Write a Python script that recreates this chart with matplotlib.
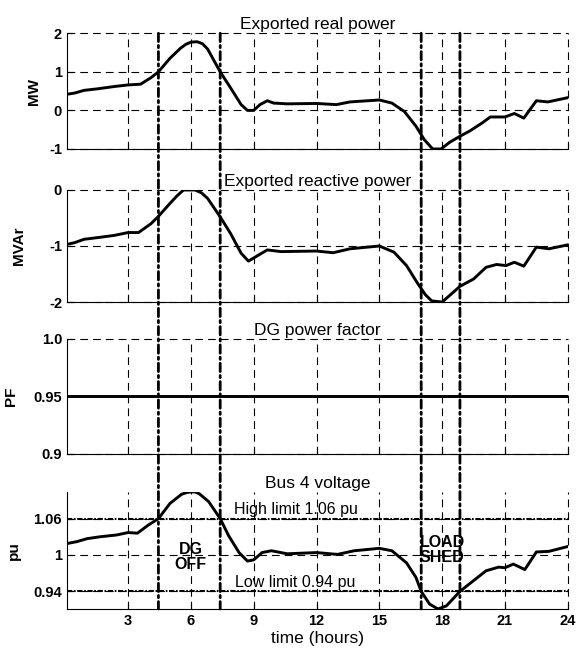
import numpy as np
import matplotlib
matplotlib.use("Agg")
import matplotlib.pyplot as plt
from matplotlib.patches import ConnectionPatch

plt.rcParams['font.family'] = ['Liberation Sans', 'DejaVu Sans']

# exported real power (MW)
t_mw = [0.1, 0.45, 0.9, 1.55, 2.35, 3.0, 3.6, 4.1, 4.45, 5.0, 5.5, 5.75, 6.0, 6.3, 6.55,
        6.8, 7.4, 7.9, 8.4, 8.7, 9.0, 9.3, 9.65, 9.95, 10.6, 12.0, 12.95, 13.6, 15.0,
        15.6, 16.2, 16.75, 17.15, 17.55, 17.95, 18.35, 18.85, 19.3, 19.9, 20.3,
        21.0, 21.45, 21.9, 22.5, 23.05, 24.0]
mw = [0.42, 0.45, 0.52, 0.56, 0.62, 0.66, 0.68, 0.85, 1.0, 1.35, 1.61, 1.71, 1.77, 1.78,
      1.73, 1.59, 1.0, 0.58, 0.15, 0.0, 0.0, 0.15, 0.25, 0.19, 0.17, 0.18, 0.15, 0.22,
      0.27, 0.19, -0.03, -0.41, -0.76, -1.0, -1.0, -0.83, -0.67, -0.54, -0.33, -0.17,
      -0.17, -0.08, -0.2, 0.25, 0.22, 0.33]

# exported reactive power (MVAr)
t_mvar = [0.1, 0.45, 0.9, 1.55, 2.35, 3.0, 3.5, 4.1, 4.45, 5.0, 5.35, 5.65, 6.2, 6.5,
          6.8, 7.4, 7.9, 8.4, 8.75, 9.15, 9.65, 10.3, 12.0, 12.8, 13.6, 15.0, 15.7,
          16.3, 16.8, 17.2, 17.5, 18.0, 18.4, 18.85, 19.5, 20.1, 20.6, 21.05, 21.45,
          21.9, 22.5, 23.1, 24.0]
mvar = [-0.97, -0.94, -0.88, -0.85, -0.81, -0.76, -0.76, -0.6, -0.47, -0.24, -0.1, 0.0,
        0.0, -0.05, -0.15, -0.48, -0.78, -1.13, -1.27, -1.18, -1.07, -1.1, -1.09,
        -1.12, -1.05, -1.0, -1.11, -1.35, -1.65, -1.87, -1.98, -2.0, -1.87, -1.72,
        -1.59, -1.38, -1.33, -1.35, -1.29, -1.36, -1.02, -1.05, -0.98]

# DG power factor
t_pf = [0.1, 24.0]
pf = [0.95, 0.95]

# bus 4 voltage (pu)
t_v = [0.1, 0.55, 1.05, 1.65, 2.45, 3.0, 3.45, 3.95, 4.45, 5.0, 5.55, 5.8, 6.0, 6.2,
       6.4, 6.85, 7.4, 7.8, 8.3, 8.7, 9.0, 9.4, 9.85, 10.6, 12.0, 13.0, 13.8, 15.0,
       15.6, 16.3, 16.75, 17.0, 17.4, 17.8, 18.2, 18.85, 19.4, 20.1, 20.7, 21.0,
       21.4, 21.95, 22.5, 23.1, 24.0]
volt = [1.019, 1.022, 1.027, 1.030, 1.033, 1.037, 1.036, 1.049, 1.06, 1.085, 1.100,
        1.103, 1.104, 1.104, 1.101, 1.088, 1.06, 1.032, 1.004, 0.990, 0.992, 1.004,
        1.007, 1.002, 1.004, 1.001, 1.007, 1.011, 1.007, 0.987, 0.963, 0.94, 0.919,
        0.911, 0.916, 0.94, 0.955, 0.974, 0.980, 0.979, 0.985, 0.976, 1.005, 1.006,
        1.014]

v_high = 1.06
v_low = 0.94
events = [4.45, 7.4, 17.0, 18.85]   # DG off / load shed switching times
xticks = [3, 6, 9, 12, 15, 18, 21, 24]

fig = plt.figure(figsize=(5.77, 6.52), dpi=100)
L, W = 0.116, 0.868
ax1 = fig.add_axes([L, 0.7715, W, 0.1775])
ax2 = fig.add_axes([L, 0.5368, W, 0.1718])
ax3 = fig.add_axes([L, 0.3037, W, 0.1764])
ax4 = fig.add_axes([L, 0.0660, W, 0.1795])


def style(ax, yticks, ylabels, ylim, title, ylabel, label_x):
    ax.set_xlim(0.08, 24)
    ax.set_ylim(*ylim)
    ax.set_xticks(xticks)
    ax.set_yticks(yticks)
    ax.set_yticklabels(ylabels, fontsize=10.5, fontweight='bold')
    ax.spines['top'].set_visible(False)
    ax.spines['right'].set_visible(False)
    ax.tick_params(direction='in', length=4, width=0.8)
    ax.grid(True, color='black', linestyle=(0, (7, 4.5)), linewidth=0.8)
    for g in ax.get_xgridlines() + ax.get_ygridlines():
        g.set_clip_on(False)
    ax.set_title(title, fontsize=12.5, pad=3)
    ax.set_ylabel(ylabel, fontsize=11, fontweight='bold')
    ax.yaxis.set_label_coords(label_x, 0.5)


ax1.plot(t_mw, mw, color='black', lw=2.1)
style(ax1, [-1, 0, 1, 2], ['-1', '0', '1', '2'], (-1, 2), 'Exported real power', 'MW',
      -0.052)
ax1.set_xticklabels([])

ax2.plot(t_mvar, mvar, color='black', lw=2.1)
style(ax2, [-2, -1, 0], ['-2', '-1', '0'], (-2, 0), 'Exported reactive power', 'MVAr',
      -0.082)
ax2.set_xticklabels([])

ax3.plot(t_pf, pf, color='black', lw=2.1)
style(ax3, [0.9, 0.95, 1.0], ['0.9', '0.95', '1.0'], (0.9, 1.0), 'DG power factor', 'PF',
      -0.098)
ax3.set_xticklabels([])

ax4.plot(t_v, volt, color='black', lw=2.1)
style(ax4, [0.94, 1.0, 1.06], ['0.94', '1', '1.06'], (min(volt), max(volt)),
      'Bus 4 voltage', 'pu', -0.092)
ax4.set_xticklabels([str(x) for x in xticks], fontsize=10.5, fontweight='bold')
ax4.set_xlabel('time (hours)', fontsize=12.5, labelpad=2)
ax4.axhline(v_high, color='black', lw=1.5, linestyle=(0, (2.5, 0.8, 0.8, 0.8)))
ax4.axhline(v_low, color='black', lw=1.5, linestyle=(0, (2.5, 0.8, 0.8, 0.8)))
ax4.text(8.05, v_high + 0.002, 'High limit 1.06 pu', fontsize=11.5, va='bottom')
ax4.text(8.1, v_low + 0.003, 'Low limit 0.94 pu', fontsize=11.5, va='bottom')
ax4.text(6.0, 0.997, 'DG\nOFF', fontsize=11.5, fontweight='bold',
         ha='center', va='center', linespacing=1.0)
ax4.text(18.0, 1.009, 'LOAD\nSHED', fontsize=11.5, fontweight='bold',
         ha='center', va='center', linespacing=1.0)

# event lines run through all four panels
for t in events:
    con = ConnectionPatch(xyA=(t, 2), coordsA='data', axesA=ax1,
                          xyB=(t, min(volt)), coordsB='data', axesB=ax4,
                          color='black', lw=2.0,
                          linestyle=(0, (3, 1.4, 0.8, 1.4)))
    fig.add_artist(con)

fig.savefig('out.png', dpi=100)
